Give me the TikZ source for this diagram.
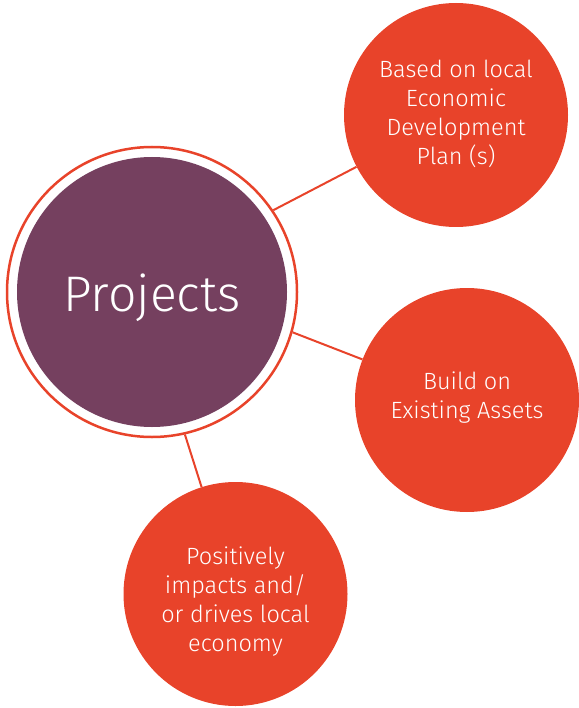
\documentclass[tikz,border=0pt]{standalone}
\usepackage{fontspec}
\setmainfont{Fira Sans}[UprightFont={* Light}]
\definecolor{myorange}{HTML}{E8432A}
\definecolor{mypurple}{HTML}{75405F}
\begin{document}
\begin{tikzpicture}[x=1pt,y=-1pt,
  ringc/.style={circle,draw=myorange,line width=2.5pt,minimum size=290pt,inner sep=0pt},
  projc/.style={circle,fill=mypurple,minimum size=270pt,inner sep=0pt},
  projt/.style={text=white,inner sep=0pt,font=\fontsize{50}{60}\selectfont},
  bub/.style={circle,fill=myorange,minimum size=224pt,inner sep=0pt},
  bubt/.style={text=white,align=center,inner sep=0pt,font=\fontsize{23.5}{29}\selectfont},
  conn/.style={draw=myorange,line width=2pt}]
\useasboundingbox (0,0) rectangle (578,708);
\node[ringc] (ring) at (152,292) {};
\node[projc] (proj) at (152,292) {};
\node[projt] (projtext) at (152,298) {Projects};
\node[bub] (c1) at (456,115) {};
\node[bubt] (t1) at (456,114) {Based on local\\Economic\\Development\\Plan (s)};
\node[bub] (c2) at (467,400) {};
\node[bubt] (t2) at (467,398) {Build on\\Existing Assets};
\node[bub] (c3) at (235.5,594) {};
\node[bubt] (t3) at (235.5,602) {Positively\\impacts and/\\or drives local\\economy};
\draw[conn] (ring.34) -- (c1);
\draw[conn] (ring.-16) -- (c2);
\draw[conn] (ring.-77) -- (c3);
\end{tikzpicture}
\end{document}
